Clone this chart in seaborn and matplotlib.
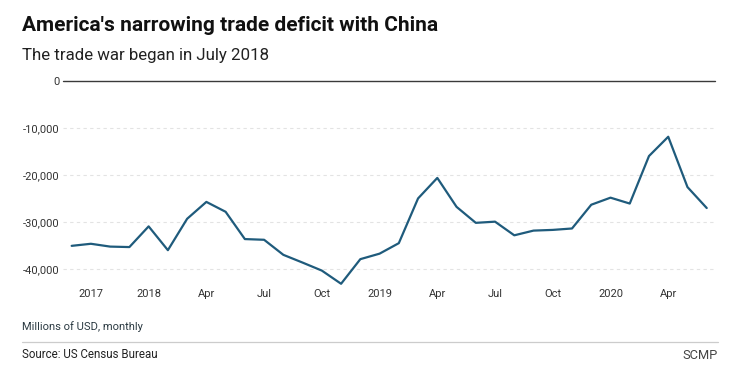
import pandas as pd
import seaborn as sns
import matplotlib.pyplot as plt

# US goods trade balance with China, millions of USD, monthly (Aug 2017 - May 2020)
months = pd.date_range("2017-08-01", "2020-05-01", freq="MS")
balance = [
    -35040, -34600, -35200, -35300, -30900,
    -35960, -29290, -25700, -27800, -33600, -33750,
    -36950, -38600, -40300, -43100, -37870, -36700,
    -34470, -24960, -20600, -26750, -30150, -29900,
    -32800, -31800, -31650, -31350, -26300, -24800,
    -26050, -15950, -11850, -22550, -27000,
]
y_ticks = [0, -10000, -20000, -30000, -40000]
x_labels = ["2017", "2018", "Apr", "Jul", "Oct", "2019", "Apr", "Jul", "Oct", "2020", "Apr"]

df = pd.DataFrame({"month": months, "balance": balance})
df["idx"] = range(len(df))

sns.set_theme(style="white")
plt.rcParams["font.family"] = ["Roboto", "DejaVu Sans"]

fig = plt.figure(figsize=(7.51, 3.78), dpi=100)
ax = fig.add_axes([63 / 751, 1 - 288 / 378, (715 - 63) / 751, (288 - 81) / 378])

line_color = "#1f5b7c"
sns.lineplot(data=df, x="idx", y="balance", ax=ax, color=line_color, linewidth=1.6)

# gridlines: dotted, zero line solid
for v in y_ticks:
    if v == 0:
        ax.axhline(v, color="#3a3a3a", linewidth=1.0, zorder=1, clip_on=False)
    else:
        ax.axhline(v, color="#e3e3e3", linewidth=0.8, linestyle=(0, (3, 3)), zorder=0)

ax.set_ylim(-44000, 0)
ax.set_xlim(-0.45, len(df) - 1 + 0.43)

# quarter ticks sit one month before the quarter start
nxt = df["month"] + pd.DateOffset(months=1)
tick_pos = df.loc[nxt.dt.month.isin([1, 4, 7, 10]), "idx"].tolist()
ax.set_xticks(tick_pos)
ax.set_xticklabels(x_labels)
ax.set_yticks(y_ticks)
ax.set_yticklabels([f"{v:,}" for v in y_ticks])

ax.tick_params(axis="both", length=0, labelsize=8, colors="#333333")
ax.tick_params(axis="x", pad=1)
ax.tick_params(axis="y", pad=2.5)
ax.set_xlabel("")
ax.set_ylabel("")
for s in ax.spines.values():
    s.set_visible(False)
ax.patch.set_alpha(0)

# header
fig.text(22 / 751, 1 - 31 / 378, "America's narrowing trade deficit with China",
         fontsize=15, fontweight="bold", color="#111111", va="baseline")
fig.text(22 / 751, 1 - 60 / 378, "The trade war began in July 2018",
         fontsize=12.2, color="#222222", va="baseline")

# footer
fig.text(22 / 751, 1 - 330.5 / 378, "Millions of USD, monthly",
         fontsize=8, color="#2b3a42", va="baseline")
fig.add_artist(plt.Line2D([22 / 751, 718 / 751], [1 - 341.7 / 378] * 2,
                          color="#cccccc", linewidth=0.9, transform=fig.transFigure))
fig.text(22 / 751, 1 - 357.5 / 378, "Source: US Census Bureau",
         fontsize=8.3, color="#222222", va="baseline")
fig.text(718 / 751, 1 - 359 / 378, "SCMP",
         fontsize=9.3, color="#444444", va="baseline", ha="right")

fig.savefig("out.png", dpi=100)
